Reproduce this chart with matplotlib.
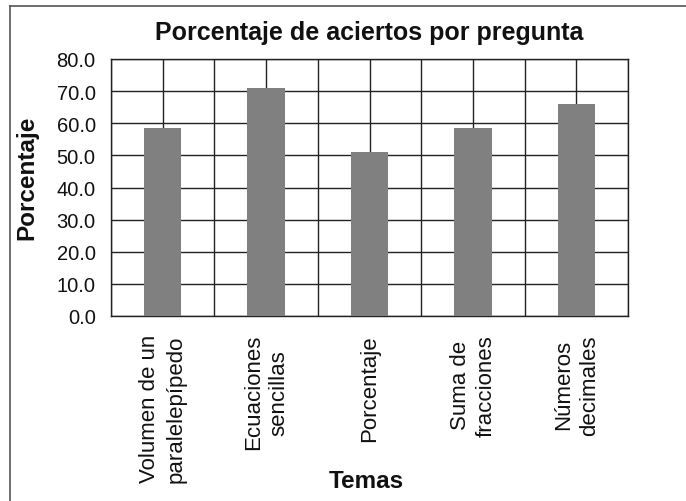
import numpy as np
import matplotlib
matplotlib.use('Agg')
import matplotlib.pyplot as plt
from matplotlib.lines import Line2D

plt.rcParams['font.family'] = ['Liberation Sans', 'DejaVu Sans']

temas = ['Volumen de un\nparalelepípedo', 'Ecuaciones\nsencillas', 'Porcentaje',
         'Suma de\nfracciones', 'Números\ndecimales']
porcentaje = [58.6, 71.0, 51.2, 58.6, 66.1]
yticks = [0, 10, 20, 30, 40, 50, 60, 70, 80]

W, H = 686, 502
fig = plt.figure(figsize=(W / 100, H / 100), dpi=100)
ax = fig.add_axes([111 / W, 1 - 317 / H, (628 - 111) / W, (317 - 60) / H])

x = np.arange(len(temas))
ax.bar(x, porcentaje, width=0.36, color='#808080', zorder=3)

ax.set_xlim(-0.5, len(temas) - 0.5)
ax.set_ylim(0, 80)
ax.set_yticks(yticks)
ax.set_yticklabels(['%.1f' % v for v in yticks], fontsize=14.5, color='#111111')
ax.set_xticks(x)
ax.set_xticklabels(temas, rotation=90, fontsize=16, ha='center', va='top',
                   multialignment='center', linespacing=1.3, color='#111111')
ax.set_xticks(np.arange(len(temas) + 1) - 0.5, minor=True)
ax.tick_params(axis='y', length=0, pad=11)
ax.tick_params(axis='x', which='both', length=0, pad=13)

ax.grid(True, which='both', axis='x', color='#222222', linewidth=1.0, zorder=1)
ax.grid(True, which='major', axis='y', color='#222222', linewidth=1.0, zorder=1)
ax.set_axisbelow(True)
for s in ax.spines.values():
    s.set_color('#222222')
    s.set_linewidth(1.0)

fig.text(369 / W, 1 - 33 / H, 'Porcentaje de aciertos por pregunta', ha='center',
         va='center', fontsize=18, fontweight='bold', color='#111111')
fig.text(27 / W, 1 - 178 / H, 'Porcentaje', rotation=90, ha='center', va='center',
         fontsize=17.5, fontweight='bold', color='#111111')
fig.text(366 / W, 1 - 482 / H, 'Temas', ha='center', va='center',
         fontsize=17.5, fontweight='bold', color='#111111')

# outer frame (top and left edges visible)
fig.add_artist(Line2D([10 / W, 1], [1 - 7 / H, 1 - 7 / H], color='#555555', linewidth=1.2,
                      transform=fig.transFigure))
fig.add_artist(Line2D([10 / W, 10 / W], [0, 1 - 7 / H], color='#555555', linewidth=1.2,
                      transform=fig.transFigure))

fig.savefig('out.png', dpi=100)
